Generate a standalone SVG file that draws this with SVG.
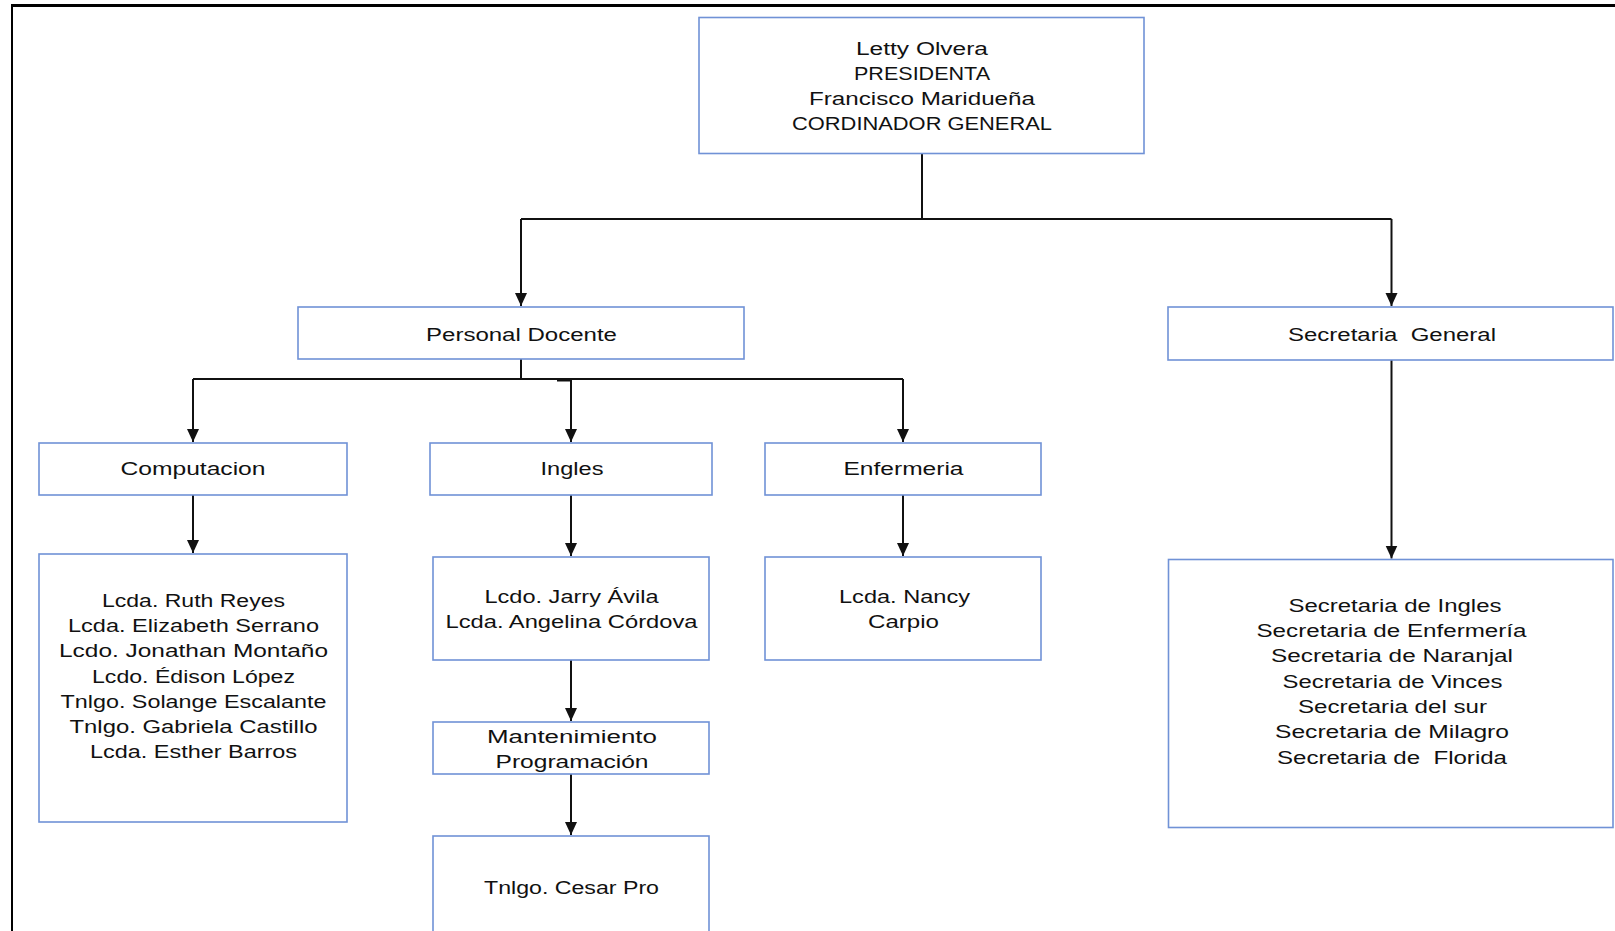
<svg xmlns="http://www.w3.org/2000/svg" width="1615" height="931" viewBox="0 0 1615 931">
<defs>
<style>
.box{fill:#ffffff;stroke:#7092d6;stroke-width:1.6}
.t{font-family:"Liberation Sans",Arial,sans-serif;font-size:17.5px;fill:#111;text-anchor:middle}
.c{fill:none;stroke:#111;stroke-width:2}
</style>
<marker id="ah" markerUnits="userSpaceOnUse" markerWidth="14" markerHeight="14" viewBox="0 0 14 14" refX="13" refY="7" orient="auto">
<path d="M0,1 L13,7 L0,13 Z" fill="#111"/>
</marker>
</defs>
<rect width="1615" height="931" fill="#ffffff"/>
<g id="frame">
<line x1="11" y1="5.5" x2="1615" y2="5.5" stroke="#000" stroke-width="3"/>
<line x1="12" y1="5" x2="12" y2="931" stroke="#000" stroke-width="2"/>
</g>
<g id="connectors">
<path class="c" d="M922,153 V219"/>
<path class="c" d="M521,219 H1391.5"/>
<path class="c" d="M521,219 V306" marker-end="url(#ah)"/>
<path class="c" d="M1391.5,219 V306" marker-end="url(#ah)"/>
<path class="c" d="M521,359 V379"/>
<path class="c" d="M193,379 H903"/>
<path class="c" d="M557,380.5 H571" stroke-width="1.5"/>
<path class="c" d="M193,379 V442" marker-end="url(#ah)"/>
<path class="c" d="M571,379 V442" marker-end="url(#ah)"/>
<path class="c" d="M903,379 V442" marker-end="url(#ah)"/>
<path class="c" d="M193,495 V553" marker-end="url(#ah)"/>
<path class="c" d="M571,495 V556" marker-end="url(#ah)"/>
<path class="c" d="M903,495 V556" marker-end="url(#ah)"/>
<path class="c" d="M571,660 V721" marker-end="url(#ah)"/>
<path class="c" d="M571,774 V835" marker-end="url(#ah)"/>
<path class="c" d="M1391.5,360 V558.5" marker-end="url(#ah)"/>
</g>
<g id="n-presidenta">
<rect class="box" x="699" y="17.5" width="445" height="136"/>
<text class="t" x="922" y="55" textLength="132" lengthAdjust="spacingAndGlyphs">Letty Olvera</text>
<text class="t" x="922" y="80" textLength="136" lengthAdjust="spacingAndGlyphs">PRESIDENTA</text>
<text class="t" x="922" y="104.5" textLength="226" lengthAdjust="spacingAndGlyphs">Francisco Maridueña</text>
<text class="t" x="922" y="130" textLength="260" lengthAdjust="spacingAndGlyphs">CORDINADOR GENERAL</text>
</g>
<g id="n-personal-docente">
<rect class="box" x="298" y="307" width="446" height="52"/>
<text class="t" x="521.5" y="340.5" textLength="191" lengthAdjust="spacingAndGlyphs">Personal Docente</text>
</g>
<g id="n-secretaria-general">
<rect class="box" x="1168" y="307" width="445" height="53"/>
<text class="t" x="1392" y="340.5" textLength="208" lengthAdjust="spacingAndGlyphs" xml:space="preserve">Secretaria  General</text>
</g>
<g id="n-computacion">
<rect class="box" x="39" y="443" width="308" height="52"/>
<text class="t" x="193" y="475" textLength="145" lengthAdjust="spacingAndGlyphs">Computacion</text>
</g>
<g id="n-ingles">
<rect class="box" x="430" y="443" width="282" height="52"/>
<text class="t" x="572" y="475" textLength="63" lengthAdjust="spacingAndGlyphs">Ingles</text>
</g>
<g id="n-enfermeria">
<rect class="box" x="765" y="443" width="276" height="52"/>
<text class="t" x="903.5" y="475" textLength="120" lengthAdjust="spacingAndGlyphs">Enfermeria</text>
</g>
<g id="n-computacion-personal">
<rect class="box" x="39" y="554" width="308" height="268"/>
<text class="t" x="193.5" y="607" textLength="183" lengthAdjust="spacingAndGlyphs">Lcda. Ruth Reyes</text>
<text class="t" x="193.5" y="632.2" textLength="251" lengthAdjust="spacingAndGlyphs">Lcda. Elizabeth Serrano</text>
<text class="t" x="193.5" y="657.4" textLength="269" lengthAdjust="spacingAndGlyphs">Lcdo. Jonathan Montaño</text>
<text class="t" x="193.5" y="682.6" textLength="203" lengthAdjust="spacingAndGlyphs">Lcdo. Édison López</text>
<text class="t" x="193.5" y="707.8" textLength="266" lengthAdjust="spacingAndGlyphs">Tnlgo. Solange Escalante</text>
<text class="t" x="193.5" y="733" textLength="248" lengthAdjust="spacingAndGlyphs">Tnlgo. Gabriela Castillo</text>
<text class="t" x="193.5" y="758.2" textLength="207" lengthAdjust="spacingAndGlyphs">Lcda. Esther Barros</text>
</g>
<g id="n-ingles-personal">
<rect class="box" x="433" y="557" width="276" height="103"/>
<text class="t" x="571.5" y="603" textLength="174" lengthAdjust="spacingAndGlyphs">Lcdo. Jarry Ávila</text>
<text class="t" x="571.5" y="627.6" textLength="252" lengthAdjust="spacingAndGlyphs">Lcda. Angelina Córdova</text>
</g>
<g id="n-enfermeria-personal">
<rect class="box" x="765" y="557" width="276" height="103"/>
<text class="t" x="904.5" y="603" textLength="131" lengthAdjust="spacingAndGlyphs">Lcda. Nancy</text>
<text class="t" x="903.5" y="627.6" textLength="71" lengthAdjust="spacingAndGlyphs">Carpio</text>
</g>
<g id="n-mantenimiento">
<rect class="box" x="433" y="722" width="276" height="52"/>
<text class="t" x="572" y="742.7" textLength="170" lengthAdjust="spacingAndGlyphs">Mantenimiento</text>
<text class="t" x="572" y="767.8" textLength="153" lengthAdjust="spacingAndGlyphs">Programación</text>
</g>
<g id="n-cesar">
<rect class="box" x="433" y="836" width="276" height="110"/>
<text class="t" x="571.5" y="894.4" textLength="175" lengthAdjust="spacingAndGlyphs">Tnlgo. Cesar Pro</text>
</g>
<g id="n-secretarias">
<rect class="box" x="1168.5" y="559.5" width="444.5" height="268"/>
<text class="t" x="1395" y="611.6" textLength="213" lengthAdjust="spacingAndGlyphs">Secretaria de Ingles</text>
<text class="t" x="1391.5" y="636.9" textLength="270" lengthAdjust="spacingAndGlyphs">Secretaria de Enfermería</text>
<text class="t" x="1392" y="662.3" textLength="242" lengthAdjust="spacingAndGlyphs">Secretaria de Naranjal</text>
<text class="t" x="1392.5" y="687.6" textLength="220" lengthAdjust="spacingAndGlyphs">Secretaria de Vinces</text>
<text class="t" x="1392.5" y="713" textLength="189" lengthAdjust="spacingAndGlyphs">Secretaria del sur</text>
<text class="t" x="1392" y="738.3" textLength="234" lengthAdjust="spacingAndGlyphs">Secretaria de Milagro</text>
<text class="t" x="1392" y="763.7" textLength="230" lengthAdjust="spacingAndGlyphs" xml:space="preserve">Secretaria de  Florida</text>
</g>
</svg>
